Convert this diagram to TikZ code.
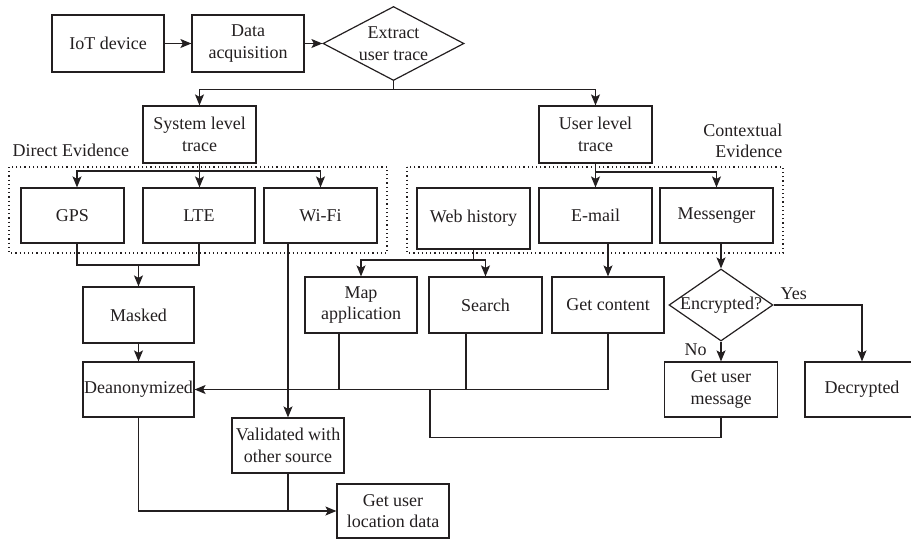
\documentclass[tikz,border=0pt]{standalone}
\usepackage{fontspec}
\setmainfont{Liberation Serif}
\usetikzlibrary{arrows.meta,shapes.geometric}
\definecolor{ink}{HTML}{231F20}
\begin{document}
\begin{tikzpicture}[x=1pt,y=-1pt,
  every node/.style={font=\fontsize{18}{21.5}\selectfont, text=ink},
  box/.style={draw=ink, rectangle, inner sep=0pt, align=center, minimum height=55pt, minimum width=112pt},
  dia/.style={draw=ink, diamond, inner sep=0pt},
  arr/.style={-{Stealth[length=11pt,width=9pt,inset=2.5pt]}},
  ev/.style={draw=ink, dash pattern=on 1.2pt off 3pt, line width=1.1pt},
  line width=1.2pt, draw=ink]
\useasboundingbox (0,0) rectangle (911,539);
\clip (0,0) rectangle (911,539);

% top row
\node[box, minimum height=57pt] (iot) at (108,43.5) {IoT device};
\node[box, minimum height=57pt] (acq) at (248,43.5) {Data\\acquisition};
\node[dia, minimum width=141pt, minimum height=74pt] (ext) at (393.5,43.5) {};
\node[align=center, inner sep=0pt] (extt) at (ext.center) {Extract\\user trace};

% traces
\node[box, minimum width=113pt, minimum height=57pt] (sys) at (199.5,134.5) {System level\\trace};
\node[box, minimum width=113pt, minimum height=57pt] (usr) at (595.5,134.5) {User level\\trace};

% evidence boxes
\node[box, minimum width=103pt] (gps) at (72.5,215.5) {GPS};
\node[box] (lte) at (199,215.5) {LTE};
\node[box, minimum width=113pt] (wifi) at (320.5,215.5) {Wi-Fi};
\node[box, minimum width=113pt, minimum height=61pt] (web) at (473.5,218.5) {Web history};
\node[box, minimum width=113pt] (email) at (595.5,215.5) {E-mail};
\node[box, minimum width=113pt] (msg) at (716.5,215.5) {Messenger};

% labels
\node[anchor=base west, inner sep=0pt] (de) at (12,156) {Direct Evidence};
\node[anchor=base east, inner sep=0pt] (ce1) at (783,136) {Contextual};
\node[anchor=base east, inner sep=0pt] (ce2) at (783,157) {Evidence};

% lower boxes
\node[box, minimum width=111pt, minimum height=56pt] (mask) at (138.5,315) {Masked};
\node[box, minimum width=111pt] (dean) at (138.5,389.5) {Deanonymized};
\node[box, minimum height=56pt] (map) at (361,305) {Map\\application};
\node[box, minimum width=113pt, minimum height=56pt] (search) at (485.5,305) {Search};
\node[box, minimum height=56pt] (getc) at (608,305) {Get content};
\node[dia, minimum width=104pt, minimum height=72pt] (enc) at (721,305) {};
\node[inner sep=0pt] (enct) at (enc.center) {Encrypted?};
\node[box, minimum width=113pt] (gum) at (721,389.5) {Get user\\message};
\node[box, minimum width=114pt] (dec) at (862,389.5) {Decrypted};
\node[box] (val) at (288,445.5) {Validated with\\other source};
\node[box, minimum height=54pt] (gul) at (393,511) {Get user\\location data};

\node[anchor=base west, inner sep=0pt] (yes) at (780,299) {Yes};
\node[anchor=base west, inner sep=0pt] (no) at (684,355) {No};

% dotted groups
\draw[ev] (9,167) rectangle (387,253);
\draw[ev] (407,167) rectangle (783,253);

% connectors
\draw[arr] (iot.east) -- (acq.west);
\draw[arr] (acq.east) -- (ext.west);
\coordinate (b1) at (393.5,89.5);
\draw (ext.south) -- (b1);
\draw[arr] (b1) -| (sys.north);
\draw[arr] (b1) -| (usr.north);

\coordinate (b2) at (199.5,171);
\draw (sys.south) -- (b2);
\draw[arr] (b2) -| ([xshift=4.5pt]gps.north);
\draw[arr] (b2) -- (b2 |- lte.north);
\draw[arr] (b2) -| (wifi.north);

\coordinate (b3) at (595.5,172);
\draw (usr.south) -- (b3);
\draw[arr] (b3) -- (b3 |- email.north);
\draw[arr] (b3) -| (msg.north);

\coordinate (m1) at (138.5,265);
\draw ([xshift=4.5pt]gps.south) |- (m1) -| (lte.south);
\draw[arr] (m1) -- (mask.north);
\draw[arr] (mask.south) -- (dean.north);

\draw[arr] (wifi.south -| val.north) -- (val.north);

\coordinate (w1) at (473.5,260);
\draw (web.south) -- (w1);
\draw[arr] (w1) -| (map.north);
\draw[arr] (w1) -| (search.north);

\draw[arr] (email.south -| getc.north) -- (getc.north);
\draw[arr] (getc.south) |- (dean.east);
\draw ([xshift=-22pt]map.south) -- ([xshift=-22pt]map.south |- dean.east);
\draw ([xshift=-19.5pt]search.south) -- ([xshift=-19.5pt]search.south |- dean.east);

\coordinate (g1) at (430,389.5);
\draw (gum.south) -- ++(0,20) -| (g1);

\draw[arr] (msg.south -| enc.north) -- (enc.north);
\draw[arr] (enc.east) -| (dec.north);
\draw[arr] (enc.south) -- (gum.north);

\draw[arr] (dean.south) |- (gul.west);
\draw (val.south) -- (val.south |- gul.west);
\end{tikzpicture}
\end{document}
